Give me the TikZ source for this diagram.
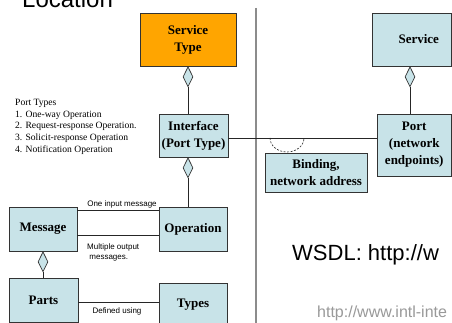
\documentclass[tikz,border=0pt]{standalone}
\usepackage{fontspec}
\setmainfont{Liberation Serif}
\newfontfamily\arialfont{Liberation Sans}
\usetikzlibrary{shapes.geometric}
\definecolor{boxblue}{RGB}{200,227,232}
\definecolor{svcorange}{RGB}{255,165,0}
\begin{document}
\begin{tikzpicture}[x=1pt,y=-1pt,
  box/.style={draw=black!80, line width=0.9pt, fill=boxblue, inner sep=0pt, align=center,
    font=\fontsize{13}{17}\selectfont\bfseries},
  diam/.style={diamond, draw=black!80, line width=0.7pt, fill=boxblue,
    minimum width=10pt, minimum height=20pt, inner sep=0pt, anchor=north},
  conn/.style={draw=black!85, line width=0.8pt},
  small/.style={font=\arialfont\fontsize{8}{10}\selectfont, inner sep=0pt},
]
\useasboundingbox (0,0) rectangle (452,323);
\clip (0,0) rectangle (452,323);
\fill[white] (0,0) rectangle (452,323);

% title fragment
\node[font=\arialfont\fontsize{24}{24}\selectfont, anchor=base west, inner sep=0pt] (loc) at (22,8) {Location};

% separator
\draw[draw=black!45, line width=1.2pt] (256,8) -- (256,323);

% boxes
\node[box, fill=svcorange, minimum width=96pt, minimum height=53pt] (stype) at (188,39.5) {Service\\Type};
\node[box, minimum width=69pt, minimum height=43pt] (iface) at (193.5,135.5) {Interface\\(Port Type)};
\node[box, minimum width=68pt, minimum height=44pt] (oper) at (193,229) {Operation};
\node[box, minimum width=68pt, minimum height=44pt] (msg) at (43,229) {Message};
\node[box, minimum width=69pt, minimum height=44pt] (parts) at (43.5,300) {Parts};
\node[box, minimum width=68pt, minimum height=44pt] (types) at (193,305) {Types};
\node[box, minimum width=79.5pt, minimum height=53pt] (service) at (411.75,39.5) {\hspace*{14pt}Service};
\node[box, minimum width=74.5pt, minimum height=62pt] (port) at (414.25,145) {Port\\(network\\endpoints)};
\node[box, minimum width=102pt, minimum height=39pt] (binding) at (316,172.5) {Binding,\\network address};

% diamonds
\node[diam] (d1) at (stype.south) {};
\node[diam] (d2) at (iface.south -| d1.south) {};
\node[diam] (d3) at (msg.south) {};
\node[diam] (d4) at ([xshift=-1.75pt]service.south) {};

% connectors
\draw[conn] (d1.south) -- (d1.south |- iface.north);
\draw[conn] (d2.south) -- (d2.south |- oper.north);
\draw[conn] (d3.south) -- (d3.south |- parts.north);
\draw[conn] (d4.south) -- (d4.south |- port.north);
\coordinate (bl) at (0,138);
\draw[conn] (bl -| iface.east) -- (bl -| port.west);
\draw[conn] ([yshift=19pt]msg.east) -- ([yshift=19pt]msg.east -| oper.west);
\draw[conn] ([yshift=-6pt]msg.east) -- ([yshift=-6pt]msg.east -| oper.west);
\draw[conn] ([yshift=-2pt]parts.east) -- ([yshift=-2pt]parts.east -| types.west);

% binding half ellipse
\draw[black!85, line width=0.6pt, dash pattern=on 2pt off 1.5pt] (270,138) arc[start angle=180, end angle=0, x radius=17, y radius=14];

% labels
\node[small] (inlab) at (122,204) {One input message};
\node[small, anchor=north west, align=left] (outlab) at (87,244) {Multiple output\\\ messages.};
\node[small] (deflab) at (117,311) {Defined using};

\node[anchor=north west, align=left, inner sep=0pt, font=\fontsize{9.6}{11.7}\selectfont] (ptypes) at (15,99)
  {Port Types\\1. One-way Operation\\2. Request-response Operation.\\3. Solicit-response Operation\\4. Notification Operation};

\node[font=\arialfont\fontsize{22}{22}\selectfont, anchor=base west, inner sep=0pt] (wsdl) at (292,260) {WSDL: http://w};
\node[font=\arialfont\fontsize{16}{16}\selectfont, anchor=base west, inner sep=0pt, text=black!40] (url) at (317,317) {http://www.intl-inte};
\end{tikzpicture}
\end{document}
